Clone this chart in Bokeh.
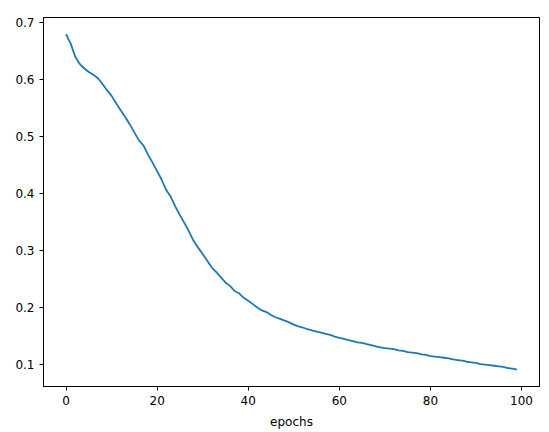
from bokeh.plotting import figure
from bokeh.models import Range1d, FixedTicker
from bokeh.embed import file_html
from bokeh.resources import INLINE

epochs = list(range(100))
loss = [
    0.679, 0.663, 0.640, 0.627, 0.619, 0.613, 0.608, 0.602, 0.592, 0.581,
    0.571, 0.558, 0.546, 0.534, 0.521, 0.507, 0.493, 0.484, 0.468, 0.454,
    0.439, 0.424, 0.406, 0.394, 0.377, 0.362, 0.348, 0.333, 0.317, 0.305,
    0.294, 0.282, 0.270, 0.262, 0.253, 0.244, 0.238, 0.229, 0.225, 0.217,
    0.212, 0.206, 0.200, 0.195, 0.192, 0.187, 0.183, 0.180, 0.177, 0.174,
    0.170, 0.167, 0.165, 0.162, 0.160, 0.158, 0.156, 0.154, 0.152, 0.149,
    0.147, 0.145, 0.143, 0.141, 0.139, 0.138, 0.136, 0.134, 0.132, 0.130,
    0.129, 0.128, 0.127, 0.125, 0.124, 0.122, 0.121, 0.120, 0.118, 0.117,
    0.115, 0.114, 0.113, 0.112, 0.111, 0.109, 0.108, 0.107, 0.105, 0.104,
    0.103, 0.101, 0.100, 0.099, 0.098, 0.097, 0.096, 0.094, 0.093, 0.091,
]
x_ticks = [0, 20, 40, 60, 80, 100]
y_ticks = [0.1, 0.2, 0.3, 0.4, 0.5, 0.6, 0.7]
x_label = "epochs"

xspan = max(epochs) - min(epochs)
yspan = max(loss) - min(loss)
p = figure(width=549, height=432, output_backend="svg", toolbar_location=None,
           x_range=Range1d(min(epochs) - 0.05 * xspan, max(epochs) + 0.05 * xspan),
           y_range=Range1d(min(loss) - 0.05 * yspan, max(loss) + 0.05 * yspan),
           min_border_left=43, min_border_right=10, min_border_top=17, min_border_bottom=46)

p.line(epochs, loss, line_color="#1f77b4", line_width=1.8)

p.xgrid.visible = False
p.ygrid.visible = False
p.outline_line_color = "black"
p.outline_line_width = 1
p.outline_line_alpha = 1
p.background_fill_color = "white"
p.border_fill_color = "white"

p.xaxis.ticker = FixedTicker(ticks=x_ticks)
p.yaxis.ticker = FixedTicker(ticks=y_ticks)
for ax in (p.xaxis, p.yaxis):
    ax.minor_tick_line_color = None
    ax.major_tick_in = 0
    ax.major_tick_out = 4
    ax.major_tick_line_color = "black"
    ax.axis_line_color = "black"
    ax.major_label_text_font = "DejaVu Sans"
    ax.major_label_text_font_size = "12px"
    ax.major_label_text_color = "black"
    ax.major_label_standoff = 5
p.xaxis.axis_label = x_label
p.xaxis.axis_label_text_font = "DejaVu Sans"
p.xaxis.axis_label_text_font_size = "12px"
p.xaxis.axis_label_text_font_style = "normal"
p.xaxis.axis_label_text_color = "black"
p.xaxis.axis_label_standoff = 7

open("out.html", "w").write(file_html(p, INLINE))
